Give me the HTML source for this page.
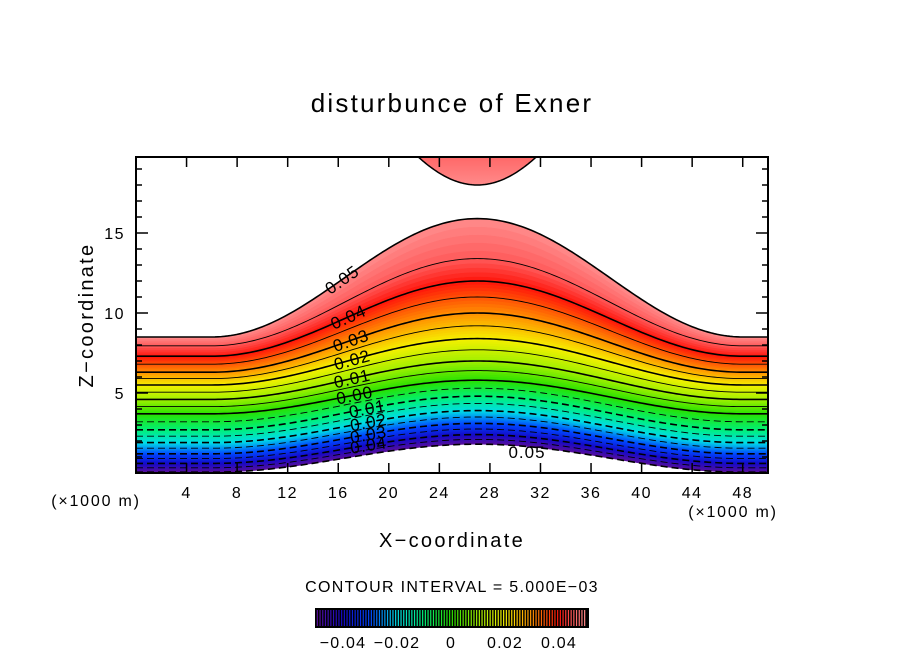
<!DOCTYPE html>
<html><head><meta charset="utf-8">
<style>
html,body{margin:0;padding:0;background:#fff;}
svg{display:block;font-family:"Liberation Sans",sans-serif;}
</style></head>
<body>
<svg id="chart" width="904" height="654" viewBox="0 0 904 654" xmlns="http://www.w3.org/2000/svg">
  <rect width="904" height="654" fill="#fff"/>
  <text x="452" y="112" text-anchor="middle" font-size="26" letter-spacing="2.2">disturbunce of Exner</text>
  <g id="plot"></g>
  <g id="axes"></g>
  <text x="93" y="315" text-anchor="middle" font-size="20" letter-spacing="2.3" transform="rotate(-90 93 315)">Z−coordinate</text>
  <text x="452" y="547" text-anchor="middle" font-size="20" letter-spacing="2.3">X−coordinate</text>
  <text x="96" y="506" text-anchor="middle" font-size="16" letter-spacing="1.8">(×1000 m)</text>
  <text x="733" y="517" text-anchor="middle" font-size="16" letter-spacing="1.8">(×1000 m)</text>
  <text x="452" y="592" text-anchor="middle" font-size="16" letter-spacing="1.3">CONTOUR INTERVAL = 5.000E−03</text>
  <g id="cbar"></g>
</svg>
<script>
// ---- data ----
const levels      = [-0.05,-0.04,-0.03,-0.02,-0.01,0.00,0.01,0.02,0.03,0.04,0.045,0.05];
const edgeHeight  = [0.05, 0.6, 1.2, 1.9, 2.7, 3.7, 4.6, 5.5, 6.3, 7.3, 7.95, 8.5];
const peakHeight  = [1.8, 2.4, 3.1, 3.9, 4.8, 5.8, 7.0, 8.4, 10.0, 12.0, 13.4, 15.9];
const xTicks = [4,8,12,16,20,24,28,32,36,40,44,48];
const yTicks = [5,10,15];
const cbarTicks = [-0.04,-0.02,0,0.02,0.04];
const cbarTickLabels = ["−0.04","−0.02","0","0.02","0.04"];
const labelLevels = ["0.05","0.04","0.03","0.02","0.01","0.00","0.01","0.02","0.03","0.04"];
const labelValues = [0.05,0.04,0.03,0.02,0.01,0.0,-0.01,-0.02,-0.03,-0.04];
const labelX      = [16.3,16.8,17.0,17.1,17.1,17.3,18.3,18.4,18.4,18.4];
const ridgeCenter = 27, ridgeHalfWidth = 21, topBlobBase = 18;

const NS="http://www.w3.org/2000/svg";
const X0=136,X1=768,Y0=157,Y1=473,XMAX=50,ZMAX=19.75;
const sx=x=>X0+(X1-X0)*x/XMAX;
const sy=z=>Y1-(Y1-Y0)*z/ZMAX;
function g(x){const d=Math.abs(x-ridgeCenter);if(d>=ridgeHalfWidth)return 0;const c=Math.cos(Math.PI*d/(2*ridgeHalfWidth));return c*c;}
function interp(arr,c){
  if(c<=levels[0])return arr[0];
  for(let i=0;i<levels.length-1;i++){if(c<=levels[i+1]){const t=(c-levels[i])/(levels[i+1]-levels[i]);return arr[i]+t*(arr[i+1]-arr[i]);}}
  return arr[arr.length-1];
}
function height(c,x){const e=interp(edgeHeight,c),p=interp(peakHeight,c);return e+(p-e)*g(x);}
const stops=[[-0.05,[90,15,154]],[-0.04,[20,10,200]],[-0.03,[0,70,255]],[-0.02,[0,220,230]],[-0.01,[0,240,120]],[0,[40,225,0]],[0.01,[160,240,0]],[0.02,[245,240,0]],[0.03,[255,145,0]],[0.04,[255,20,10]],[0.045,[255,90,90]],[0.05,[255,140,140]]];
function color(c){
  for(let i=0;i<stops.length-1;i++){if(c<=stops[i+1][0]||i===stops.length-2){const t=Math.max(0,Math.min(1,(c-stops[i][0])/(stops[i+1][0]-stops[i][0])));const a=stops[i][1],b=stops[i+1][1];return `rgb(${a.map((v,k)=>Math.round(v+t*(b[k]-v))).join(',')})`;}}
}
function el(tag,attrs,parent){const e=document.createElementNS(NS,tag);for(const k in attrs)e.setAttribute(k,attrs[k]);parent.appendChild(e);return e;}
const plot=document.getElementById('plot');
const xs=[];for(let x=0;x<=XMAX+1e-9;x+=0.25)xs.push(x);
function curvePts(c){return xs.map(x=>[sx(x),sy(Math.min(height(c,x),ZMAX))]);}
const N=100;
for(let i=0;i<N;i++){
  const c0=-0.05+0.1*i/N,c1=-0.05+0.1*(i+1)/N;
  const lo=curvePts(c0),hi=curvePts(c1).reverse();
  const d='M'+lo.concat(hi).map(p=>p[0].toFixed(2)+','+p[1].toFixed(2)).join('L')+'Z';
  const p=el('path',{d:d,fill:color((c0+c1)/2),stroke:color((c0+c1)/2),'stroke-width':0.6},plot);
  
  
}
{
  const pts=[];for(let x=15;x<=39;x+=0.1){const z=topBlobBase+15*(1-g(x));if(z<=ZMAX+0.5)pts.push([sx(x),sy(Math.min(z,ZMAX))]);}
  const grad=el('linearGradient',{id:'blobg',x1:0,y1:0,x2:0,y2:1},plot);
  el('stop',{offset:0,'stop-color':'#ff6868'},grad);el('stop',{offset:1,'stop-color':'#ff8a8a'},grad);
  const p=el('path',{d:'M'+pts.map(p=>p[0].toFixed(2)+','+p[1].toFixed(2)).join('L')+'Z',fill:'url(#blobg)',stroke:'#000','stroke-width':1.5},plot);
  
  
}
for(let k=0;k<=20;k++){
  const c=-0.05+0.005*k;
  const major=(k%2===0);
  const pts=curvePts(c);
  const attrs={d:'M'+pts.map(p=>p[0].toFixed(2)+','+p[1].toFixed(2)).join('L'),fill:'none',stroke:'#000','stroke-width':major?1.6:0.9};
  if(c<-1e-9)attrs['stroke-dasharray']='7,4';
  const p=el('path',attrs,plot);
  
  
}
labelLevels.forEach((t,i)=>{
  const x=labelX[i],c=labelValues[i];
  const px=sx(x),py=sy(height(c,x));
  const dz=(sy(height(c,x+0.5))-sy(height(c,x-0.5)))/(sx(x+0.5)-sx(x-0.5));
  const ang=Math.atan(dz)*180/Math.PI;
  const tx=el('text',{x:px,y:py+6,'text-anchor':'middle','font-size':17,'letter-spacing':1,transform:`rotate(${ang.toFixed(1)} ${px} ${py})`},plot);
  tx.textContent=t;
  
  
});
{const tx=el('text',{x:527,y:458,'text-anchor':'middle','font-size':17,'letter-spacing':1},plot);tx.textContent='0.05';

}
const axes=document.getElementById('axes');
const fr=el('rect',{x:X0,y:Y0,width:X1-X0,height:Y1-Y0,fill:'none',stroke:'#000','stroke-width':2},axes);


for(let x=4;x<XMAX;x+=4){const X=sx(x);
  el('line',{x1:X,y1:Y1,x2:X,y2:Y1-10,stroke:'#000','stroke-width':1.5},axes);
  el('line',{x1:X,y1:Y0,x2:X,y2:Y0+10,stroke:'#000','stroke-width':1.5},axes);}
for(let z=1;z<=19;z++){const L=(z%5===0)?12:6;const Y=sy(z);
  el('line',{x1:X0,y1:Y,x2:X0+L,y2:Y,stroke:'#000','stroke-width':1.5},axes);
  el('line',{x1:X1,y1:Y,x2:X1-L,y2:Y,stroke:'#000','stroke-width':1.5},axes);}
xTicks.forEach(v=>{const t=el('text',{x:sx(v),y:498,'text-anchor':'middle','font-size':16,'letter-spacing':1.5},axes);t.textContent=v;
  
  });
yTicks.forEach(v=>{const t=el('text',{x:125,y:sy(v)+6,'text-anchor':'end','font-size':16,'letter-spacing':1.5},axes);t.textContent=v;
  
  });
const cb=document.getElementById('cbar');
const cx=v=>451+2700*v;
el('rect',{x:315,y:608,width:274,height:20,fill:'#000'},cb);
for(let v=-0.0495;v<0.05;v+=0.001){
  const l=el('rect',{x:cx(v)-0.6,y:610,width:1.2,height:16,fill:color(v)},cb);
  
  
}
cbarTicks.forEach((v,i)=>{const t=el('text',{x:cx(v),y:648,'text-anchor':'middle','font-size':16,'letter-spacing':1.2},cb);t.textContent=cbarTickLabels[i];
  
  });
</script>
</body></html>
